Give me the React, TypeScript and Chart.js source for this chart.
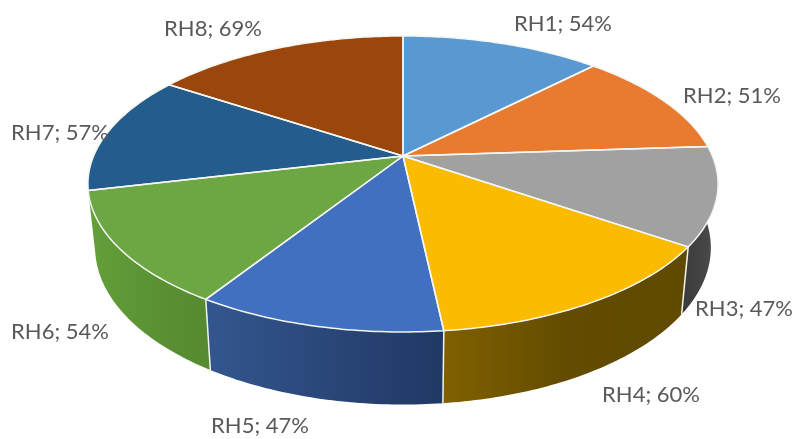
import React, { useEffect, useRef } from "react";
import { Chart, registerables } from "chart.js";

Chart.register(...registerables);

const categories = ["RH1", "RH2", "RH3", "RH4", "RH5", "RH6", "RH7", "RH8"];
const humidity = [54, 51, 47, 60, 47, 54, 57, 69];
const topColors = ["#5a98d2", "#e97b30", "#a1a1a1", "#fbbb00", "#4070bf", "#6da744", "#245c8e", "#9a460d"];
// Wall gradient stops (left to right) for the slices facing the viewer.
const wallColors: (string[] | null)[] = [
  null,
  null,
  ["#3a3a3a", "#4c4c4c"],
  ["#806000", "#634c00", "#5f4a00"],
  ["#34568f", "#2a4779", "#203864"],
  ["#64a03a", "#5b9233", "#558a30"],
  null,
  null,
];
const labelCentres = [
  [563, 24], [732, 96], [744, 309], [651, 395],
  [260, 426], [60, 332], [60, 133], [213, 29],
];

// Perspective view of the disc.
const VIEW = { cx: 403, cy: 156, rx: 309.4, ry: 142.7, k: 0.189, drop: 62, xShrink: 0.977, yGrow: 1.06 };

const topPoint = (a: number) => {
  const u = Math.cos(a);
  const v = Math.sin(a);
  const w = 1 - VIEW.k * v;
  return { x: VIEW.cx + (VIEW.rx * u) / w, y: VIEW.cy + (VIEW.ry * v) / w };
};
const bottomPoint = (a: number) => {
  const p = topPoint(a);
  return {
    x: VIEW.cx + (p.x - VIEW.cx) * VIEW.xShrink,
    y: VIEW.cy + (p.y - VIEW.cy) * VIEW.yGrow + VIEW.drop,
  };
};
const sweep = (a0: number, a1: number) => {
  const n = Math.max(4, Math.ceil((a1 - a0) / 0.015));
  return Array.from({ length: n + 1 }, (_, i) => a0 + ((a1 - a0) * i) / n);
};

const projectedPie = {
  id: "projectedPie",
  beforeDatasetsDraw(chart: any) {
    const ctx: CanvasRenderingContext2D = chart.ctx;
    const arcs = chart.getDatasetMeta(0).data;
    ctx.save();
    ctx.lineJoin = "round";

    // Side walls
    arcs.forEach((arc: any, i: number) => {
      const stops = wallColors[i];
      if (!stops) return;
      const { startAngle, endAngle } = arc.getProps(["startAngle", "endAngle"], true);
      const angles = sweep(startAngle, endAngle);
      const tops = angles.map(topPoint);
      const bottoms = angles.map(bottomPoint);
      const xs = [...tops, ...bottoms].map((p) => p.x);
      const g = ctx.createLinearGradient(Math.min(...xs), 0, Math.max(...xs), 0);
      stops.forEach((c, j) => g.addColorStop(j / (stops.length - 1), c));
      ctx.beginPath();
      tops.forEach((p, j) => (j ? ctx.lineTo(p.x, p.y) : ctx.moveTo(p.x, p.y)));
      [...bottoms].reverse().forEach((p) => ctx.lineTo(p.x, p.y));
      ctx.closePath();
      ctx.fillStyle = g;
      ctx.fill();
    });

    // Vertical seams between walls
    ctx.strokeStyle = "#f2f5ee";
    ctx.lineWidth = 1.5;
    [3, 4, 5].forEach((i) => {
      const { startAngle } = arcs[i].getProps(["startAngle"], true);
      const t = topPoint(startAngle);
      const b = bottomPoint(startAngle);
      ctx.beginPath();
      ctx.moveTo(t.x, t.y);
      ctx.lineTo(b.x, b.y);
      ctx.stroke();
    });

    // Top faces
    arcs.forEach((arc: any, i: number) => {
      const { startAngle, endAngle } = arc.getProps(["startAngle", "endAngle"], true);
      ctx.beginPath();
      ctx.moveTo(VIEW.cx, VIEW.cy);
      sweep(startAngle, endAngle).map(topPoint).forEach((p) => ctx.lineTo(p.x, p.y));
      ctx.closePath();
      ctx.fillStyle = topColors[i];
      ctx.fill();
    });
    arcs.forEach((arc: any) => {
      const { startAngle, endAngle } = arc.getProps(["startAngle", "endAngle"], true);
      ctx.beginPath();
      ctx.moveTo(VIEW.cx, VIEW.cy);
      sweep(startAngle, endAngle).map(topPoint).forEach((p) => ctx.lineTo(p.x, p.y));
      ctx.closePath();
      ctx.strokeStyle = "#f4f6f2";
      ctx.lineWidth = 1.5;
      ctx.stroke();
    });

    // Labels
    ctx.fillStyle = "#595959";
    ctx.font = '22px Lato, "Open Sans", sans-serif';
    ctx.textAlign = "center";
    ctx.textBaseline = "middle";
    categories.forEach((name, i) => {
      ctx.fillText(`${name}; ${humidity[i]}%`, labelCentres[i][0], labelCentres[i][1]);
    });
    ctx.restore();
    return false;
  },
};

export default function App() {
  const ref = useRef<HTMLCanvasElement | null>(null);
  useEffect(() => {
    const chart = new Chart(ref.current as HTMLCanvasElement, {
      type: "pie",
      data: {
        labels: categories,
        datasets: [{ label: "RH", data: humidity, backgroundColor: topColors, borderColor: "#ffffff" }],
      },
      options: {
        responsive: false,
        animation: false,
        plugins: { legend: { display: false }, tooltip: { enabled: false } },
      },
      plugins: [projectedPie],
    });
    return () => chart.destroy();
  }, []);
  return (
    <div style={{ position: "absolute", left: 0, top: 0, width: 796, height: 439, background: "#ffffff" }}>
      <canvas ref={ref} width={796} height={439} style={{ display: "block" }} />
    </div>
  );
}
